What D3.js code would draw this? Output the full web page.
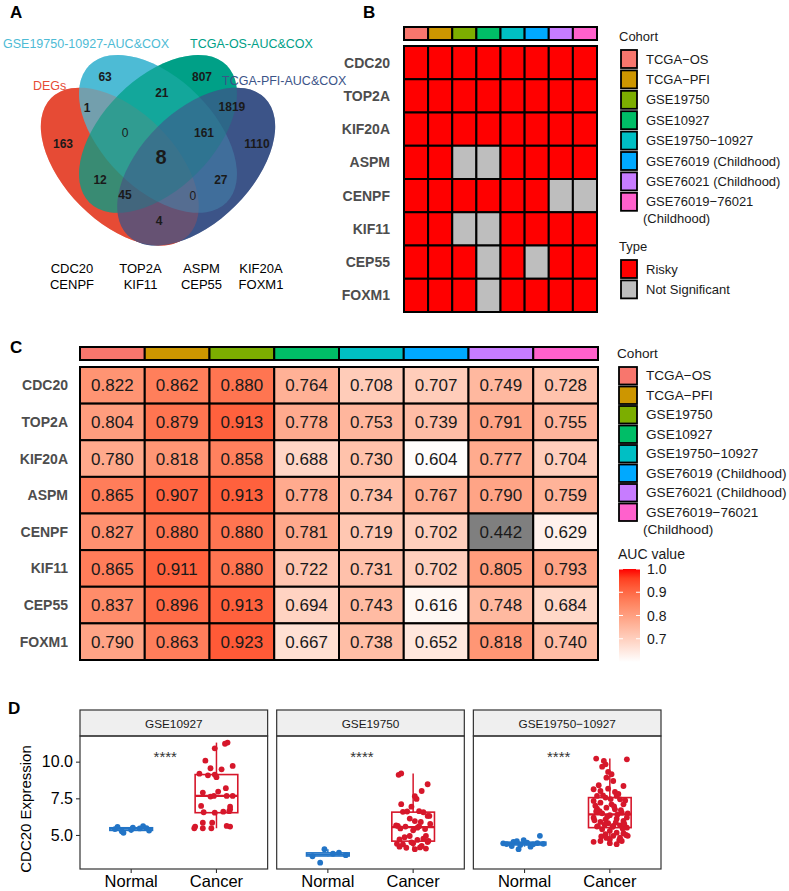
<!DOCTYPE html>
<html><head><meta charset="utf-8">
<script src="https://cdn.jsdelivr.net/npm/d3@7"></script>
<style>
html,body{margin:0;padding:0;background:#fff;}
svg{display:block;font-family:'Liberation Sans',Arial,Helvetica,sans-serif;}
</style></head>
<body><svg id="c" width="789" height="891"></svg>
<script>
// ---------------- DATA ----------------
const genes = ["CDC20","TOP2A","KIF20A","ASPM","CENPF","KIF11","CEP55","FOXM1"];
const cohorts = ["TCGA−OS","TCGA−PFI","GSE19750","GSE10927","GSE19750−10927","GSE76019 (Childhood)","GSE76021 (Childhood)","GSE76019−76021\n(Childhood)"];
const cohortColors = ["#F8766D","#CD9600","#7CAE00","#00BE67","#00BFC4","#00A9FF","#C77CFF","#FF61CC"];
const typeLevels = ["Risky","Not Significant"];
const typeColors = ["#FF0000","#BEBEBE"];
// 1 = Risky, 0 = Not Significant (rows = genes, cols = cohorts)
const riskMatrix = [
  [1,1,1,1,1,1,1,1],
  [1,1,1,1,1,1,1,1],
  [1,1,1,1,1,1,1,1],
  [1,1,0,0,1,1,1,1],
  [1,1,1,1,1,1,0,0],
  [1,1,0,0,1,1,1,1],
  [1,1,1,0,1,0,1,1],
  [1,1,1,0,1,1,1,1]
];
const aucMatrix = [
  [0.822,0.862,0.880,0.764,0.708,0.707,0.749,0.728],
  [0.804,0.879,0.913,0.778,0.753,0.739,0.791,0.755],
  [0.780,0.818,0.858,0.688,0.730,0.604,0.777,0.704],
  [0.865,0.907,0.913,0.778,0.734,0.767,0.790,0.759],
  [0.827,0.880,0.880,0.781,0.719,0.702,0.442,0.629],
  [0.865,0.911,0.880,0.722,0.731,0.702,0.805,0.793],
  [0.837,0.896,0.913,0.694,0.743,0.616,0.748,0.684],
  [0.790,0.863,0.923,0.667,0.738,0.652,0.818,0.740]
];
const aucLimits = [0.6, 1.0];
const aucTicks = [0.7, 0.8, 0.9, 1.0];

const vennSets = ["DEGs","GSE19750-10927-AUC&COX","TCGA-OS-AUC&COX","TCGA-PFI-AUC&COX"];
const vennColors = ["#E64B35","#4DBBD5","#00A087","#3C5488"];
const vennRegions = ["1000","0100","0010","0001","1100","0110","0011","1110","0111","1111","1010","0101","1011","1101","1001"];
const vennCounts  = [163,63,807,1110,1,21,1819,0,161,8,12,27,45,0,4];
const vennGeneGroups = [["CDC20","CENPF"],["TOP2A","KIF11"],["ASPM","CEP55"],["KIF20A","FOXM1"]];

const boxFacets = ["GSE10927","GSE19750","GSE19750−10927"];
const boxGroups = ["Normal","Cancer"];
const boxColors = ["#2274C6","#D6172B"];
// points: [jitter offset (category units), CDC20 expression]
const gse10927Normal = [[-0.19,5.40],[-0.11,5.25],[-0.09,5.15],[-0.16,5.55],[0.00,5.35],[0.02,5.50],[0.10,5.45],[0.14,5.60],[0.18,5.47],[0.21,5.30]];
const gse10927Cancer = [[0.13,11.30],[0.10,11.22],[-0.02,10.91],[-0.13,10.07],[0.19,9.71],[-0.07,9.55],[0.06,9.48],[-0.20,9.18],[-0.10,9.07],[0.00,8.94],[-0.02,9.12],[0.11,8.19],[-0.16,7.89],[0.02,7.96],[0.12,7.66],[0.19,7.66],[-0.07,7.62],[-0.18,6.98],[-0.03,7.66],[0.16,6.93],[0.08,6.59],[-0.02,6.52],[0.16,6.75],[-0.15,6.55],[0.15,6.62],[-0.16,5.84],[-0.05,5.84],[-0.25,5.57],[0.12,5.62],[0.16,5.57],[-0.16,5.46],[-0.06,5.46],[-0.26,5.46]];
const gse19750Normal = [[-0.04,4.03],[-0.09,3.11],[-0.18,3.55],[0.06,3.72],[0.13,3.80],[0.21,3.62]];
const gse19750Cancer = [[-0.17,9.10],[-0.14,9.20],[0.17,8.46],[0.10,8.00],[0.02,7.64],[0.04,7.46],[-0.14,7.10],[-0.02,6.93],[0.07,6.62],[0.17,6.30],[0.19,6.30],[-0.12,6.58],[-0.04,6.12],[0.02,5.95],[0.09,5.89],[-0.20,5.66],[-0.09,5.57],[0.00,5.32],[0.07,5.60],[-0.18,5.62],[-0.04,4.93],[0.15,4.93],[-0.16,4.70],[0.05,4.66],[0.17,4.52],[-0.12,4.36],[0.00,4.43],[0.10,4.25],[-0.08,4.13],[0.15,4.07],[-0.16,4.20],[0.02,4.03],[0.12,6.55],[-0.07,6.60],[0.20,5.75],[-0.15,5.45],[0.14,5.40],[0.05,5.50],[-0.10,4.85],[0.18,4.60],[-0.02,4.50],[0.08,4.15],[-0.19,4.40],[0.12,4.75]];
const mergedNormal = [[0.18,4.94],[-0.07,4.03],[0.07,4.20],[-0.25,4.43],[-0.13,4.52],[-0.01,4.65],[0.10,4.36],[-0.21,4.38],[-0.05,4.31],[0.03,4.48],[0.15,4.45],[0.22,4.40],[-0.09,4.58],[-0.15,4.25]];
const mergedCancer = [[-0.16,10.21],[-0.07,10.05],[0.20,10.16],[-0.05,9.82],[-0.09,9.66],[-0.02,9.30],[0.02,9.14],[-0.04,8.91],[0.04,8.68],[0.16,8.34],[-0.13,8.39],[-0.19,8.12],[-0.11,8.00],[-0.02,8.16],[0.06,7.93],[-0.15,7.66],[-0.05,7.55],[0.08,7.66],[0.12,7.43],[-0.19,7.32],[-0.11,7.20],[0.02,7.09],[0.16,7.09],[-0.04,6.86],[-0.15,6.80],[0.06,6.75],[0.14,6.52],[-0.09,6.48],[0.00,6.35],[0.21,6.48],[-0.19,6.18],[-0.05,6.07],[0.08,6.11],[0.16,5.96],[-0.11,5.89],[-0.02,5.80],[0.04,5.62],[0.12,5.66],[-0.15,5.57],[0.20,5.50],[-0.09,5.39],[0.00,5.28],[0.08,5.16],[0.16,5.12],[-0.05,5.05],[0.04,4.94],[0.12,4.82],[0.00,4.71],[0.21,4.94],[0.14,4.59],[-0.19,4.53],[0.00,4.44],[0.08,4.37],[-0.11,4.59],[0.10,7.80],[-0.08,7.70],[0.18,7.35],[-0.17,7.00],[0.05,6.95],[0.13,6.70],[-0.12,6.62],[0.09,6.40],[-0.03,6.25],[0.20,6.20],[-0.18,6.00],[0.07,5.85],[-0.06,5.70],[0.15,5.45],[-0.14,5.60],[0.03,5.55],[0.19,5.00],[-0.10,4.90],[0.11,4.65],[-0.04,4.80],[0.17,5.75],[-0.16,6.60],[0.01,7.45]];
const boxData = [[gse10927Normal,gse10927Cancer],[gse19750Normal,gse19750Cancer],[mergedNormal,mergedCancer]];
const signifLabel = "****";
const yTicksD = [5.0, 7.5, 10.0];

// ---------------- DRAW ----------------
const svg = d3.select("#c");
const TXT = "#1A1A1A";

// panel letters
[["A",10,18],["B",363,18],["C",10,353],["D",8,714]].forEach(([t,x,y])=>{
  svg.append("text").attr("x",x).attr("y",y).attr("font-size",17).attr("font-weight","bold").attr("fill","#000").text(t);
});

// ===== Panel A: Venn =====
(function(){
  const g = svg.append("g");
  const vx = d3.scaleLinear().domain([0,1]).range([19.5,296.5]);
  const vy = d3.scaleLinear().domain([0,1]).range([291.8,14.8]);
  const vr = d3.scaleLinear().domain([0,1]).range([0,277]);
  const ell = [{cx:0.362,cy:0.452,rot:45},{cx:0.5,cy:0.57,rot:45},{cx:0.5,cy:0.57,rot:-45},{cx:0.638,cy:0.452,rot:-45}];
  const drawE = (op)=> ell.forEach((e,i)=>{
    g.append("ellipse").attr("cx",0).attr("cy",0).attr("rx",vr(0.35)).attr("ry",vr(0.2))
     .attr("transform",`translate(${vx(e.cx)},${vy(e.cy)}) rotate(${e.rot})`)
     .attr("fill",vennColors[i]).attr("fill-opacity",op).attr("stroke","none");
  });
  drawE(1); drawE(0.5);
  const pos = {"1000":[0.157,0.534],"0100":[0.309,0.776],"0010":[0.659,0.776],"0001":[0.857,0.534],
    "1100":[0.244,0.664],"0110":[0.514,0.718],"0011":[0.767,0.667],"1110":[0.381,0.573],"0111":[0.666,0.573],
    "1111":[0.511,0.487],"1010":[0.291,0.404],"0101":[0.727,0.404],"1011":[0.381,0.350],"1101":[0.626,0.346],"1001":[0.504,0.256]};
  vennRegions.forEach((r,i)=>{
    const p = pos[r], c = vennCounts[i];
    g.append("text").attr("x",vx(p[0])).attr("y",vy(p[1])).attr("dy","0.36em").attr("text-anchor","middle")
     .attr("font-size", r==="1111"?20:12).attr("font-weight", c===0?"normal":"bold").attr("fill",TXT).text(c);
  });
  const lab = [[33,90],[3,48],[190,48],[222,85]];
  vennSets.forEach((s,i)=>{
    g.append("text").attr("x",lab[i][0]).attr("y",lab[i][1]).attr("font-size",12.5).attr("fill",vennColors[i]).text(s);
  });
  const gx = [72,140.5,201.5,261];
  vennGeneGroups.forEach((grp,i)=>grp.forEach((t,j)=>{
    g.append("text").attr("x",gx[i]).attr("y",273+j*16).attr("text-anchor","middle").attr("font-size",13).attr("fill","#000").text(t);
  }));
})();

// legend helper
function legend(g, x, y, title, labels, colors, step, kw, kh, fs){
  g.append("text").attr("x",x-1).attr("y",y).attr("font-size",fs).attr("fill",TXT).text(title);
  let yy = y+8;
  labels.forEach((l,i)=>{
    g.append("rect").attr("x",x+1).attr("y",yy+1).attr("width",kw-2).attr("height",kh-2)
      .attr("fill",colors[i]).attr("stroke","#000").attr("stroke-width",1.8);
    const lines = l.split("\n");
    lines.forEach((ln,k)=>{
      g.append("text").attr("x",x+kw+8 - (k>0?3:0)).attr("y",yy+kh/2+4.5+k*17).attr("font-size",fs).attr("fill",TXT).text(ln);
    });
    yy += step;
  });
  return yy;
}

// ===== Panel B =====
(function(){
  const g = svg.append("g");
  const xB = d3.scaleBand().domain(d3.range(cohorts.length)).range([404,597]);
  const yB = d3.scaleBand().domain(genes).range([46,312]);
  cohorts.forEach((c,j)=>{
    g.append("rect").attr("x",xB(j)).attr("y",27).attr("width",xB.bandwidth()).attr("height",13)
      .attr("fill",cohortColors[j]).attr("stroke","#000").attr("stroke-width",2);
  });
  genes.forEach((gn,i)=>{
    riskMatrix[i].forEach((v,j)=>{
      g.append("rect").attr("x",xB(j)).attr("y",yB(gn)).attr("width",xB.bandwidth()).attr("height",yB.bandwidth())
       .attr("fill", v===1?typeColors[0]:typeColors[1]).attr("stroke","#000").attr("stroke-width",2);
    });
    g.append("text").attr("x",390).attr("y",yB(gn)+yB.bandwidth()/2).attr("dy","0.36em").attr("text-anchor","end")
      .attr("font-size",14).attr("font-weight","bold").attr("fill","#4D4D4D").text(gn);
  });
  legend(g, 620, 41, "Cohort", cohorts, cohortColors, 20.4, 18, 20, 13);
  legend(g, 620, 251, "Type", typeLevels, typeColors, 20.4, 18, 20, 13);
})();

// ===== Panel C =====
(function(){
  const g = svg.append("g");
  const xC = d3.scaleBand().domain(d3.range(cohorts.length)).range([80,598]);
  const yC = d3.scaleBand().domain(genes).range([367,660]);
  const col = d3.scaleLinear().domain(aucLimits).range(["#FFFFFF","#FF0000"]).interpolate(d3.interpolateLab);
  const fillOf = v => (v<aucLimits[0]||v>aucLimits[1]) ? "#7F7F7F" : col(v);
  cohorts.forEach((c,j)=>{
    g.append("rect").attr("x",xC(j)).attr("y",347).attr("width",xC.bandwidth()).attr("height",13)
      .attr("fill",cohortColors[j]).attr("stroke","#000").attr("stroke-width",2);
  });
  genes.forEach((gn,i)=>{
    aucMatrix[i].forEach((v,j)=>{
      g.append("rect").attr("x",xC(j)).attr("y",yC(gn)).attr("width",xC.bandwidth()).attr("height",yC.bandwidth())
       .attr("fill",fillOf(v)).attr("stroke","#000").attr("stroke-width",2);
      g.append("text").attr("x",xC(j)+xC.bandwidth()/2).attr("y",yC(gn)+yC.bandwidth()/2).attr("dy","0.36em")
       .attr("text-anchor","middle").attr("font-size",17).attr("fill",TXT).text(d3.format(".3f")(v));
    });
    g.append("text").attr("x",68).attr("y",yC(gn)+yC.bandwidth()/2).attr("dy","0.36em").attr("text-anchor","end")
      .attr("font-size",14).attr("font-weight","bold").attr("fill","#4D4D4D").text(gn);
  });
  legend(g, 618, 358, "Cohort", cohorts, cohortColors, 19.5, 20, 19.5, 13.6);
  g.append("text").attr("x",618).attr("y",559).attr("font-size",14).attr("fill",TXT).text("AUC value");
  const cb = d3.scaleLinear().domain(aucLimits).range([662,569]);
  const defs = svg.append("defs");
  const lg = defs.append("linearGradient").attr("id","aucgrad").attr("x1",0).attr("y1",1).attr("x2",0).attr("y2",0);
  d3.range(0,1.0001,0.1).forEach(t=>{
    lg.append("stop").attr("offset",t).attr("stop-color",col(aucLimits[0]+t*(aucLimits[1]-aucLimits[0])));
  });
  g.append("rect").attr("x",619).attr("y",cb(aucLimits[1])).attr("width",21).attr("height",cb(aucLimits[0])-cb(aucLimits[1]))
    .attr("fill","url(#aucgrad)");
  aucTicks.forEach(t=>{
    g.append("line").attr("x1",619).attr("x2",623).attr("y1",cb(t)).attr("y2",cb(t)).attr("stroke","#fff").attr("stroke-width",1);
    g.append("line").attr("x1",636).attr("x2",640).attr("y1",cb(t)).attr("y2",cb(t)).attr("stroke","#fff").attr("stroke-width",1);
    g.append("text").attr("x",647).attr("y",cb(t)).attr("dy","0.36em").attr("font-size",14).attr("fill",TXT).text(d3.format(".1f")(t));
  });
})();

// ===== Panel D =====
(function(){
  const g = svg.append("g");
  const xf = d3.scaleBand().domain(boxFacets).range([80,661]).paddingInner(0.046);
  const bw = xf.bandwidth();
  const yD = d3.scaleLinear().domain([2.68,11.75]).range([869,736]);
  function stats(pts){
    const s = pts.map(p=>p[1]).sort(d3.ascending);
    const q1=d3.quantileSorted(s,0.25), med=d3.quantileSorted(s,0.5), q3=d3.quantileSorted(s,0.75), iqr=q3-q1;
    return {q1,med,q3,lo:d3.min(s.filter(v=>v>=q1-1.5*iqr)),hi:d3.max(s.filter(v=>v<=q3+1.5*iqr))};
  }
  boxFacets.forEach((f,fi)=>{
    const x0 = xf(f);
    const xc = d3.scaleLinear().domain([0.4,2.6]).range([x0,x0+bw]);
    g.append("rect").attr("x",x0).attr("y",710).attr("width",bw).attr("height",26).attr("fill","#EFEFEF").attr("stroke","#333").attr("stroke-width",1.2);
    g.append("text").attr("x",x0+bw/2).attr("y",727.5).attr("text-anchor","middle").attr("font-size",11.8).attr("fill",TXT).text(f);
    boxGroups.forEach((grp,gi)=>{
      const pts = boxData[fi][gi], s = stats(pts), cx = gi+1, c = boxColors[gi];
      const bx = xc(cx-0.25), bwid = xc(cx+0.25)-xc(cx-0.25);
      g.append("line").attr("x1",xc(cx)).attr("x2",xc(cx)).attr("y1",yD(s.hi)).attr("y2",yD(s.q3)).attr("stroke",c).attr("stroke-width",1.5);
      g.append("line").attr("x1",xc(cx)).attr("x2",xc(cx)).attr("y1",yD(s.q1)).attr("y2",yD(s.lo)).attr("stroke",c).attr("stroke-width",1.5);
      g.append("rect").attr("x",bx).attr("y",yD(s.q3)).attr("width",bwid).attr("height",Math.max(0.5,yD(s.q1)-yD(s.q3)))
        .attr("fill","#fff").attr("stroke",c).attr("stroke-width",1.6);
      g.append("line").attr("x1",bx).attr("x2",bx+bwid).attr("y1",yD(s.med)).attr("y2",yD(s.med)).attr("stroke",c).attr("stroke-width",2.2);
      pts.forEach(p=>{
        g.append("circle").attr("cx",xc(cx+p[0])).attr("cy",yD(p[1])).attr("r",2.9).attr("fill",c);
      });
      g.append("line").attr("x1",xc(cx)).attr("x2",xc(cx)).attr("y1",869).attr("y2",873).attr("stroke","#333").attr("stroke-width",1.1);
      g.append("text").attr("x",xc(cx)).attr("y",887).attr("text-anchor","middle").attr("font-size",16.5).attr("fill","#000").text(grp);
    });
    g.append("text").attr("x",xc(1.4)).attr("y",yD(10.0)).attr("text-anchor","middle").attr("font-size",15).attr("fill","#333").text(signifLabel);
    g.append("rect").attr("x",x0).attr("y",736).attr("width",bw).attr("height",133).attr("fill","none").attr("stroke","#333").attr("stroke-width",1.2);
  });
  const ax = g.append("g").attr("transform","translate(80,0)")
    .call(d3.axisLeft(yD).tickValues(yTicksD).tickFormat(d3.format(".1f")).tickSize(4).tickPadding(3));
  ax.select(".domain").remove();
  ax.selectAll("line").attr("stroke","#333").attr("stroke-width",1.1);
  ax.selectAll("text").attr("font-size",16).attr("fill","#000").attr("font-family","'Liberation Sans',Arial,sans-serif");
  g.append("text").attr("transform","translate(31,809) rotate(-90)").attr("text-anchor","middle").attr("font-size",15).attr("fill","#000").text("CDC20 Expression");
})();
</script></body></html>
